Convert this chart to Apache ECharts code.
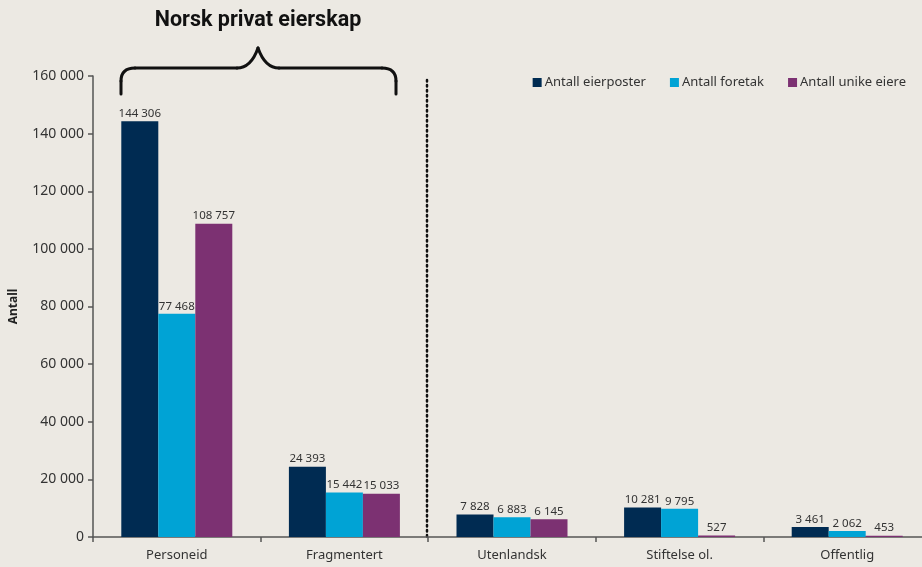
<!DOCTYPE html>
<html>
<head>
<meta charset="utf-8">
<script src="https://cdn.jsdelivr.net/npm/echarts@6/dist/echarts.min.js"></script>
<style>
  html, body { margin: 0; padding: 0; background: #ECE9E3; overflow: hidden; }
  /* The x axis runs on past the right edge of the window, so the canvas is a little wider */
  #chart { width: 940px; height: 567px; }
</style>
</head>
<body>
<div id="chart"></div>
<script>
// Ownership categories and counts
const categories = ['Personeid', 'Fragmentert', 'Utenlandsk', 'Stiftelse ol.', 'Offentlig'];
const eierposter = [144306, 24393, 7828, 10281, 3461];
const foretak = [77468, 15442, 6883, 9795, 2062];
const unikeEiere = [108757, 15033, 6145, 527, 453];
const seriesNames = ['Antall eierposter', 'Antall foretak', 'Antall unike eiere'];
const colors = ['#002B52', '#00A3D5', '#7C3172'];

const FONT = 'Noto Sans';
const fmt = v => String(v).replace(/\B(?=(\d{3})+(?!\d))/g, ' ');

const chart = echarts.init(document.getElementById('chart'));

function barSeries(name, data, color) {
  return {
    name: name,
    type: 'bar',
    data: data,
    barWidth: 37,
    barGap: '0%',
    itemStyle: { color: color },
    label: {
      show: true,
      position: 'top',
      distance: 1.5,
      formatter: p => fmt(p.value),
      color: '#333',
      fontFamily: FONT,
      fontSize: 11.5
    }
  };
}

// Curly brace over the privately owned groups, built from straight and curved strokes
const braceStyle = { stroke: '#111', lineWidth: 3, fill: 'none', lineCap: 'round' };
function seg(x1, y1, x2, y2) {
  return { type: 'line', shape: { x1, y1, x2, y2 }, style: braceStyle };
}
function curve(x1, y1, cx, cy, x2, y2) {
  return { type: 'bezierCurve', shape: { x1, y1, cpx1: cx, cpy1: cy, x2, y2 }, style: braceStyle };
}
const brace = [
  seg(121, 94, 121, 81),
  curve(121, 81, 121, 68, 135, 68),
  seg(135, 68, 237, 68),
  curve(237, 68, 251, 68, 258, 48),
  curve(258, 48, 265, 68, 279, 68),
  seg(279, 68, 382, 68),
  curve(382, 68, 396, 68, 396, 81),
  seg(396, 81, 396, 94)
];

chart.setOption({
  backgroundColor: '#ECE9E3',
  animation: false,
  textStyle: { fontFamily: FONT },
  legend: {
    right: 29,
    top: 71,
    itemWidth: 9,
    itemHeight: 9,
    itemGap: 24,
    icon: 'rect',
    textStyle: { color: '#333', fontSize: 13, fontFamily: FONT, padding: [0, 0, 0, -2] },
    data: seriesNames
  },
  grid: { left: 90, top: 76, width: 841, height: 461, containLabel: false },
  xAxis: {
    type: 'category',
    data: categories,
    axisLine: { lineStyle: { color: '#555', width: 1.5 } },
    axisTick: { show: true, length: 5, lineStyle: { color: '#555', width: 1.5 } },
    axisLabel: { color: '#333', fontSize: 13, margin: 12, fontFamily: FONT }
  },
  yAxis: {
    type: 'value',
    min: 0,
    max: 160000,
    interval: 20000,
    name: 'Antall',
    nameLocation: 'middle',
    nameGap: 73,
    nameRotate: 90,
    nameTextStyle: { fontWeight: 'bold', fontSize: 12, color: '#222', fontFamily: FONT },
    axisLine: { show: true, lineStyle: { color: '#555', width: 1.5 } },
    axisTick: { show: true, length: 5, lineStyle: { color: '#555', width: 1.5 } },
    splitLine: { show: false },
    axisLabel: { color: '#333', fontSize: 14, margin: 9, formatter: v => fmt(v), fontFamily: FONT }
  },
  series: [
    barSeries(seriesNames[0], eierposter, colors[0]),
    barSeries(seriesNames[1], foretak, colors[1]),
    barSeries(seriesNames[2], unikeEiere, colors[2])
  ],
  graphic: [
    {
      type: 'text',
      x: 258,
      y: 21,
      style: {
        text: 'Norsk privat eierskap',
        fontSize: 21.5,
        fontWeight: 'bold',
        fill: '#111',
        fontFamily: 'Roboto',
        align: 'center',
        verticalAlign: 'middle'
      }
    },
    ...brace,
    {
      type: 'line',
      shape: { x1: 427, y1: 80, x2: 427, y2: 537 },
      style: { stroke: '#111', lineWidth: 2.5, lineDash: [1.5, 3.5], lineCap: 'round' }
    }
  ]
});
</script>
</body>
</html>
